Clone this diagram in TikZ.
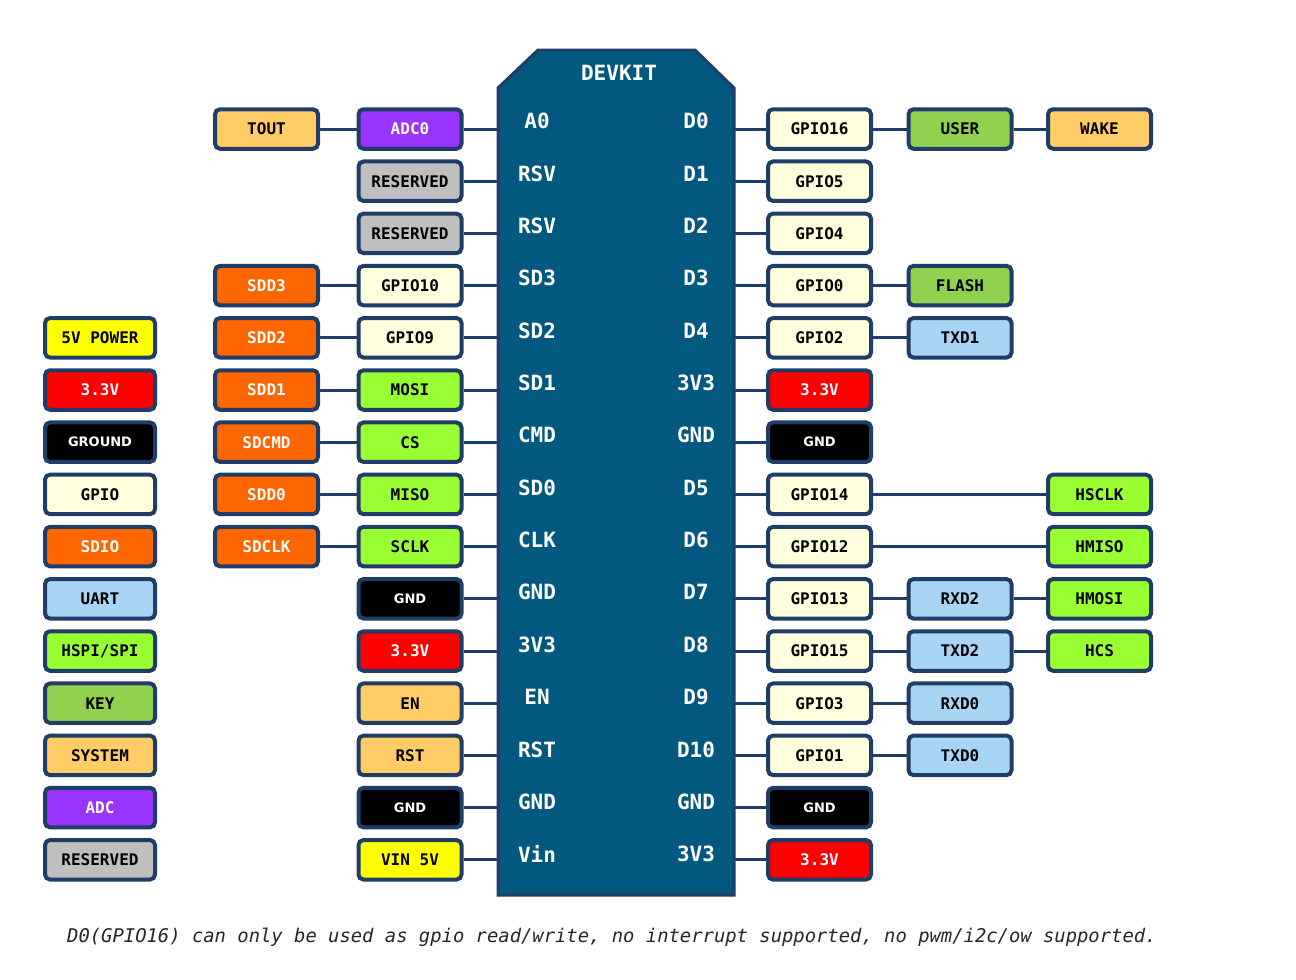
\documentclass[tikz,border=0pt]{standalone}
\usepackage{fontspec}
\newfontfamily\monofnt{DejaVu Sans Mono}
\newfontfamily\gndfnt{DejaVu Sans}
\definecolor{navy}{HTML}{1F3D66}
\definecolor{board}{HTML}{03587F}
\definecolor{sysc}{HTML}{FFCC66}
\definecolor{adcc}{HTML}{9933FF}
\definecolor{resc}{HTML}{BFBFBF}
\definecolor{sdioc}{HTML}{FF6600}
\definecolor{gpc}{HTML}{FFFFDD}
\definecolor{spic}{HTML}{99FF33}
\definecolor{pwrc}{HTML}{FF0000}
\definecolor{vinc}{HTML}{FFFF00}
\definecolor{keyc}{HTML}{92D050}
\definecolor{uartc}{HTML}{A9D4F4}
\tikzset{
  bx/.style={draw=navy, line width=4pt, rounded corners=5pt, minimum width=103pt,
    minimum height=39.5pt, inner sep=0pt, text=black,
    font=\monofnt\bfseries\fontsize{16}{18}\selectfont},
  lg/.style={bx, minimum width=110pt},
  csys/.style={fill=sysc},
  cadc/.style={fill=adcc, text=white},
  cres/.style={fill=resc},
  csdio/.style={fill=sdioc, text=white},
  cgp/.style={fill=gpc},
  cspi/.style={fill=spic},
  cgnd/.style={fill=black, text=white, font=\gndfnt\bfseries\fontsize{13}{15}\selectfont},
  cpwr/.style={fill=pwrc, text=white},
  cvin/.style={fill=vinc},
  ckey/.style={fill=keyc},
  cuart/.style={fill=uartc},
  wire/.style={draw=navy, line width=3pt},
  pinl/.style={text=white, font=\monofnt\bfseries\fontsize{21}{22}\selectfont, inner sep=0pt},
}
\begin{document}
\begin{tikzpicture}[x=1pt,y=-1pt]
\path[use as bounding box] (0,0) rectangle (1296,980);
% board
\draw[fill=board, draw=navy, line width=3pt] (498,88) -- (538,50) -- (695,50) -- (734,88) -- (734,895) -- (498,895) -- cycle;
\node[pinl] (devkit) at (619,73) {DEVKIT};
% left pin labels
\node[pinl] (pl0) at (537,121) {A0};
\node[pinl] (pl1) at (537,174) {RSV};
\node[pinl] (pl2) at (537,226) {RSV};
\node[pinl] (pl3) at (537,278) {SD3};
\node[pinl] (pl4) at (537,331) {SD2};
\node[pinl] (pl5) at (537,383) {SD1};
\node[pinl] (pl6) at (537,435) {CMD};
\node[pinl] (pl7) at (537,488) {SD0};
\node[pinl] (pl8) at (537,540) {CLK};
\node[pinl] (pl9) at (537,592) {GND};
\node[pinl] (pl10) at (537,645) {3V3};
\node[pinl] (pl11) at (537,697) {EN};
\node[pinl] (pl12) at (537,750) {RST};
\node[pinl] (pl13) at (537,802) {GND};
\node[pinl] (pl14) at (537,854) {Vin};
% right pin labels
\node[pinl] (pr0) at (696,121) {D0};
\node[pinl] (pr1) at (696,174) {D1};
\node[pinl] (pr2) at (696,226) {D2};
\node[pinl] (pr3) at (696,278) {D3};
\node[pinl] (pr4) at (696,331) {D4};
\node[pinl] (pr5) at (696,383) {3V3};
\node[pinl] (pr6) at (696,435) {GND};
\node[pinl] (pr7) at (696,488) {D5};
\node[pinl] (pr8) at (696,540) {D6};
\node[pinl] (pr9) at (696,592) {D7};
\node[pinl] (pr10) at (696,645) {D8};
\node[pinl] (pr11) at (696,697) {D9};
\node[pinl] (pr12) at (696,750) {D10};
\node[pinl] (pr13) at (696,802) {GND};
\node[pinl] (pr14) at (696,854) {3V3};
% board edge coordinates
\foreach \i/\y in {0/129,1/181.2,2/233.4,3/285.6,4/337.8,5/390,6/442.2,7/494.4,8/546.6,9/598.8,10/651,11/703.2,12/755.4,13/807.6,14/859.8}{
  \coordinate (el\i) at (498,\y);
  \coordinate (er\i) at (734,\y);
}
% legend
\node[lg,cvin] (lg4) at (100,337.8) {5V POWER};
\node[lg,cpwr] (lg5) at (100,390) {3.3V};
\node[lg,cgnd] (lg6) at (100,442.2) {GROUND};
\node[lg,cgp] (lg7) at (100,494.4) {GPIO};
\node[lg,csdio] (lg8) at (100,546.6) {SDIO};
\node[lg,cuart] (lg9) at (100,598.8) {UART};
\node[lg,cspi] (lg10) at (100,651) {HSPI/SPI};
\node[lg,ckey] (lg11) at (100,703.2) {KEY};
\node[lg,csys] (lg12) at (100,755.4) {SYSTEM};
\node[lg,cadc] (lg13) at (100,807.6) {ADC};
\node[lg,cres] (lg14) at (100,859.8) {RESERVED};
% left column A
\node[bx,csys] (a0) at (266.5,129) {TOUT};
\node[bx,csdio] (a3) at (266.5,285.6) {SDD3};
\node[bx,csdio] (a4) at (266.5,337.8) {SDD2};
\node[bx,csdio] (a5) at (266.5,390) {SDD1};
\node[bx,csdio] (a6) at (266.5,442.2) {SDCMD};
\node[bx,csdio] (a7) at (266.5,494.4) {SDD0};
\node[bx,csdio] (a8) at (266.5,546.6) {SDCLK};
% left column B
\node[bx,cadc] (b0) at (410,129) {ADC0};
\node[bx,cres] (b1) at (410,181.2) {RESERVED};
\node[bx,cres] (b2) at (410,233.4) {RESERVED};
\node[bx,cgp] (b3) at (410,285.6) {GPIO10};
\node[bx,cgp] (b4) at (410,337.8) {GPIO9};
\node[bx,cspi] (b5) at (410,390) {MOSI};
\node[bx,cspi] (b6) at (410,442.2) {CS};
\node[bx,cspi] (b7) at (410,494.4) {MISO};
\node[bx,cspi] (b8) at (410,546.6) {SCLK};
\node[bx,cgnd] (b9) at (410,598.8) {GND};
\node[bx,cpwr] (b10) at (410,651) {3.3V};
\node[bx,csys] (b11) at (410,703.2) {EN};
\node[bx,csys] (b12) at (410,755.4) {RST};
\node[bx,cgnd] (b13) at (410,807.6) {GND};
\node[bx,cvin] (b14) at (410,859.8) {VIN 5V};
% right column C
\node[bx,cgp] (c0) at (819.5,129) {GPIO16};
\node[bx,cgp] (c1) at (819.5,181.2) {GPIO5};
\node[bx,cgp] (c2) at (819.5,233.4) {GPIO4};
\node[bx,cgp] (c3) at (819.5,285.6) {GPIO0};
\node[bx,cgp] (c4) at (819.5,337.8) {GPIO2};
\node[bx,cpwr] (c5) at (819.5,390) {3.3V};
\node[bx,cgnd] (c6) at (819.5,442.2) {GND};
\node[bx,cgp] (c7) at (819.5,494.4) {GPIO14};
\node[bx,cgp] (c8) at (819.5,546.6) {GPIO12};
\node[bx,cgp] (c9) at (819.5,598.8) {GPIO13};
\node[bx,cgp] (c10) at (819.5,651) {GPIO15};
\node[bx,cgp] (c11) at (819.5,703.2) {GPIO3};
\node[bx,cgp] (c12) at (819.5,755.4) {GPIO1};
\node[bx,cgnd] (c13) at (819.5,807.6) {GND};
\node[bx,cpwr] (c14) at (819.5,859.8) {3.3V};
% right column D
\node[bx,ckey] (d0) at (960,129) {USER};
\node[bx,ckey] (d3) at (960,285.6) {FLASH};
\node[bx,cuart] (d4) at (960,337.8) {TXD1};
\node[bx,cuart] (d9) at (960,598.8) {RXD2};
\node[bx,cuart] (d10) at (960,651) {TXD2};
\node[bx,cuart] (d11) at (960,703.2) {RXD0};
\node[bx,cuart] (d12) at (960,755.4) {TXD0};
% right column E
\node[bx,csys] (e0) at (1099.5,129) {WAKE};
\node[bx,cspi] (e7) at (1099.5,494.4) {HSCLK};
\node[bx,cspi] (e8) at (1099.5,546.6) {HMISO};
\node[bx,cspi] (e9) at (1099.5,598.8) {HMOSI};
\node[bx,cspi] (e10) at (1099.5,651) {HCS};
% connectors
\foreach \i in {0,...,14}{
  \draw[wire] (b\i.east) -- (el\i);
  \draw[wire] (er\i) -- (c\i.west);
}
\foreach \i in {0,3,4,5,6,7,8}{
  \draw[wire] (a\i.east) -- (b\i.west);
}
\foreach \i in {0,3,4,9,10,11,12}{
  \draw[wire] (c\i.east) -- (d\i.west);
}
\foreach \i in {0,9,10}{
  \draw[wire] (d\i.east) -- (e\i.west);
}
\foreach \i in {7,8}{
  \draw[wire] (c\i.east) -- (e\i.west);
}
% note
\node[anchor=base west, inner sep=0pt, text=black!85, font=\monofnt\itshape\fontsize{18.85}{20}\selectfont] (note) at (67,942) {D0(GPIO16) can only be used as gpio read/write, no interrupt supported, no pwm/i2c/ow supported.};
\end{tikzpicture}
\end{document}
